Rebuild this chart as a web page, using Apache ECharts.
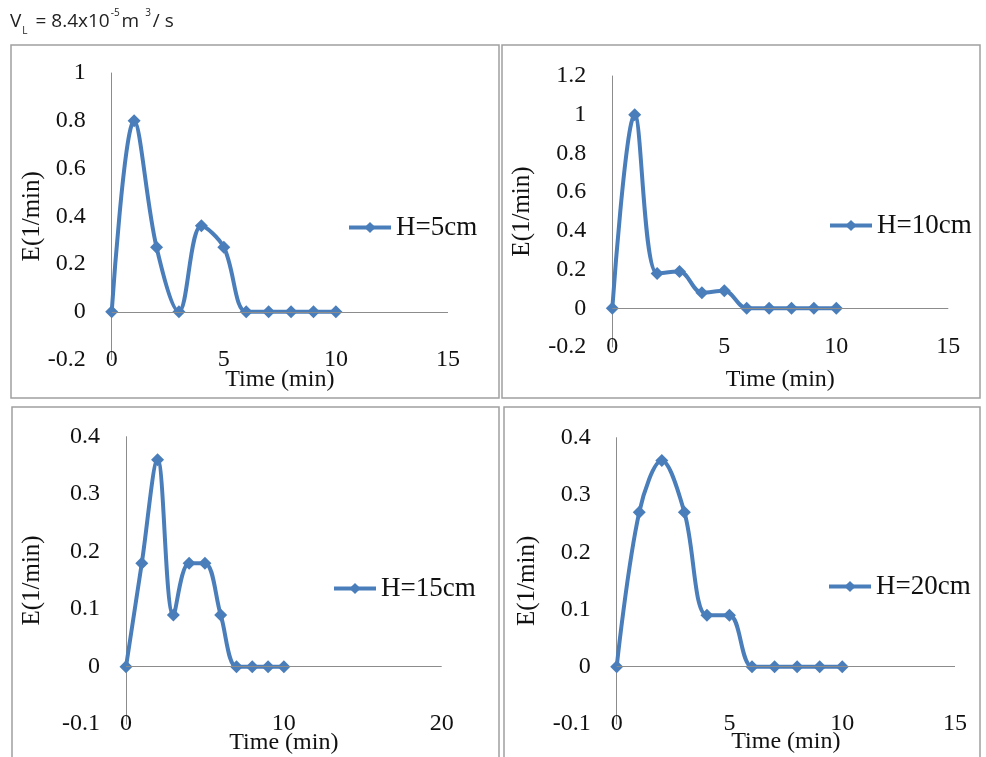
<!DOCTYPE html>
<html style="height: 100%">
<head>
  <meta charset="utf-8">
  <title>E(t) curves, VL = 8.4x10^-5 m3/s</title>
  <script src="https://cdn.jsdelivr.net/npm/echarts@6/dist/echarts.min.js"></script>
</head>
<body style="margin: 0; height: 100%; background: #fff">
  <div id="main" style="width: 986px; height: 757px"></div>

  <script>
    // data
    const timeMin = [0, 1, 2, 3, 4, 5, 6, 7, 8, 9, 10];
    const seriesNames = ['H=5cm', 'H=10cm', 'H=15cm', 'H=20cm'];
    const eH5 = [0, 0.8, 0.27, 0, 0.36, 0.27, 0, 0, 0, 0, 0];
    const eH10 = [0, 1.0, 0.18, 0.19, 0.08, 0.09, 0, 0, 0, 0, 0];
    const eH15 = [0, 0.18, 0.36, 0.09, 0.18, 0.18, 0.09, 0, 0, 0, 0];
    const eH20 = [0, 0.27, 0.36, 0.27, 0.09, 0.09, 0, 0, 0, 0, 0];
    const allValues = [eH5, eH10, eH15, eH20];

    // axis ranges per panel [min, max, interval]
    const xRanges = [[0, 15, 5], [0, 15, 5], [0, 20, 10], [0, 15, 5]];
    const yRanges = [[-0.2, 1, 0.2], [-0.2, 1.2, 0.2], [-0.1, 0.4, 0.1], [-0.1, 0.4, 0.1]];

    const blue = '#4A7EBB';
    const serif = '"Liberation Serif", "Times New Roman", serif';
    const sans = '"Open Sans", sans-serif';

    // layout of each panel (pixels)
    const panels = [
      { box: [11, 45, 488, 353], grid: [111.7, 73, 336.3, 286.5], xGap: 8.5, yGap: 67, legend: [347, 214] },
      { box: [502, 45, 478, 353], grid: [612.3, 76, 336, 271], xGap: 21, yGap: 77, legend: [828, 212] },
      { box: [12, 407, 487, 360], grid: [126, 436.7, 315.7, 287.5], xGap: 7, yGap: 81, legend: [332, 575] },
      { box: [504, 407, 476, 360], grid: [616.7, 437.7, 338.3, 286.3], xGap: 6, yGap: 77, legend: [827, 573] }
    ];

    const chart = echarts.init(document.getElementById('main'));

    const grids = [], xAxes = [], yAxes = [], series = [], legends = [], boxes = [];

    panels.forEach((p, i) => {
      boxes.push({
        type: 'rect',
        shape: { x: p.box[0], y: p.box[1], width: p.box[2], height: p.box[3] },
        style: { fill: null, stroke: '#a0a0a0', lineWidth: 1.5 },
        silent: true
      });
      grids.push({
        left: p.grid[0], top: p.grid[1], width: p.grid[2], height: p.grid[3],
        containLabel: false, outerBoundsMode: 'none'
      });
      xAxes.push({
        type: 'value', gridIndex: i,
        min: xRanges[i][0], max: xRanges[i][1], interval: xRanges[i][2],
        name: 'Time (min)', nameLocation: 'middle', nameGap: p.xGap, nameMoveOverlap: false,
        nameTextStyle: { fontFamily: serif, fontSize: 24, color: '#111' },
        axisLine: { show: false }, axisTick: { show: false }, splitLine: { show: false },
        axisLabel: { fontFamily: serif, fontSize: 24, color: '#111', margin: 0, verticalAlign: 'middle' }
      });
      yAxes.push({
        type: 'value', gridIndex: i,
        min: yRanges[i][0], max: yRanges[i][1], interval: yRanges[i][2],
        name: 'E(1/min)', nameLocation: 'middle', nameGap: p.yGap, nameMoveOverlap: false,
        nameTextStyle: { fontFamily: serif, fontSize: 25, color: '#111' },
        axisLine: { show: true, onZero: false, lineStyle: { color: '#8c8c8c', width: 1 } },
        axisTick: { show: false }, splitLine: { show: false },
        axisLabel: { fontFamily: serif, fontSize: 24, color: '#111', margin: 26 }
      });
      series.push({
        name: seriesNames[i], type: 'line', xAxisIndex: i, yAxisIndex: i,
        smooth: 0.35,
        symbol: 'diamond', symbolSize: 13,
        lineStyle: { color: blue, width: 4 },
        itemStyle: { color: blue },
        data: timeMin.map((t, k) => [t, allValues[i][k]]),
        markLine: {
          silent: true, symbol: 'none', animation: false,
          label: { show: false },
          lineStyle: { color: '#8c8c8c', width: 1, type: 'solid' },
          data: [{ yAxis: 0 }]
        },
        z: 3
      });
      legends.push({
        data: [seriesNames[i]],
        left: p.legend[0], top: p.legend[1], padding: 0,
        itemWidth: 42, itemHeight: 14,
        lineStyle: { width: 4, color: blue },
        itemStyle: { color: blue },
        textStyle: { fontFamily: serif, fontSize: 27, color: '#111' },
        selectedMode: false
      });
    });

    chart.setOption({
      animation: false,
      title: {
        left: 10, top: 8, padding: 0,
        text: '{n|V}{sub|L}{n| = 8.4x10}{sup|-5}{n|m }{sup|3}{n|/ s}',
        textStyle: {
          fontWeight: 'normal',
          rich: {
            n: { fontFamily: sans, fontSize: 19, fontWeight: 'normal', color: '#222', lineHeight: 28 },
            sub: { fontFamily: sans, fontSize: 10, fontWeight: 'normal', color: '#222', verticalAlign: 'bottom', lineHeight: 26, padding: [0, 3, 0, 1] },
            sup: { fontFamily: sans, fontSize: 10, fontWeight: 'normal', color: '#222', verticalAlign: 'top', lineHeight: 28, padding: [0, 2, 0, 1] }
          }
        }
      },
      graphic: boxes,
      legend: legends,
      grid: grids,
      xAxis: xAxes,
      yAxis: yAxes,
      series: series
    });
  </script>
</body>
</html>
